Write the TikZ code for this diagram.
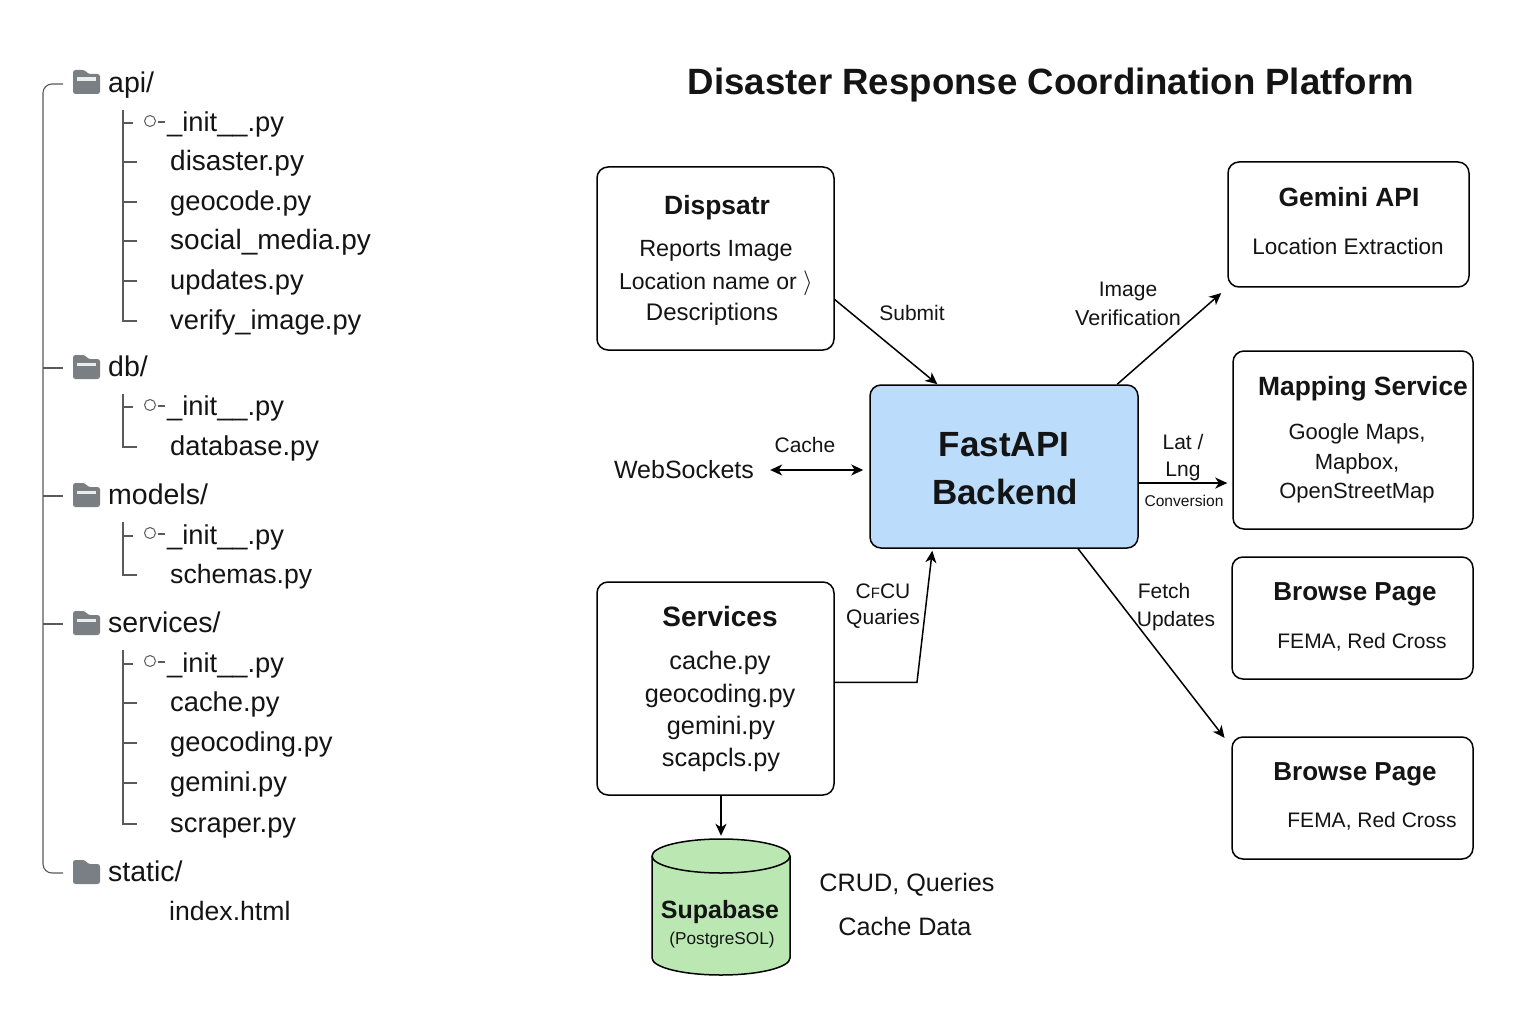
\documentclass[tikz,border=0pt]{standalone}
\usepackage{fontspec}
\setmainfont{Liberation Sans}
\usepackage{xcolor}
\usetikzlibrary{arrows.meta,calc}
\definecolor{backendblue}{RGB}{187,220,250}
\definecolor{supagreen}{RGB}{187,232,178}
\definecolor{foldergray}{RGB}{122,127,131}
\definecolor{treegray}{RGB}{90,90,90}
\definecolor{inktext}{RGB}{20,20,20}
\tikzset{
  card/.style={draw=black, line width=1.5pt, rounded corners=11pt, inner sep=0pt},
  flow/.style={draw=black, line width=1.5pt, -{Stealth[length=12pt,width=11pt,inset=3.5pt]}},
  flowboth/.style={draw=black, line width=1.5pt,
    {Stealth[length=12pt,width=11pt,inset=3.5pt]}-{Stealth[length=12pt,width=11pt,inset=3.5pt]}},
  treeline/.style={draw=treegray, line width=1.1pt},
  filename/.style={anchor=west, inner sep=0pt, text=inktext,
    font=\fontsize{27.3}{32}\selectfont\strut},
  widefile/.style={filename, font=\fontsize{28}{32}\selectfont\strut},
  narrowfile/.style={filename, font=\fontsize{26.6}{32}\selectfont\strut},
  dirname/.style={filename, font=\fontsize{28.5}{32}\selectfont\strut},
  initdot/.style={draw=treegray, circle, line width=1pt, minimum size=11pt, inner sep=0pt},
  cardtitle/.style={inner sep=0pt, text=inktext, font=\fontsize{26.4}{30}\selectfont\bfseries},
  cardtext/.style={inner sep=0pt, text=inktext, font=\fontsize{23}{28}\selectfont},
  fematext/.style={cardtext, font=\fontsize{21}{26}\selectfont},
  maptext/.style={cardtext, font=\fontsize{22}{26}\selectfont},
  servtext/.style={cardtext, font=\fontsize{25.3}{30}\selectfont},
  edgetext/.style={inner sep=0pt, text=inktext, font=\fontsize{21}{26}\selectfont},
  backendtext/.style={inner sep=0pt, text=inktext, font=\fontsize{35}{44}\selectfont\bfseries},
  notetext/.style={inner sep=0pt, text=inktext, font=\fontsize{25.2}{30}\selectfont},
  folder/.pic={
    \fill[foldergray, rounded corners=2.5pt] (0,0) -- (12,0) -- (15,4) -- (27,4)
      -- (27,24) -- (0,24) -- cycle;
    \fill[white!85!foldergray] (4,7.5) rectangle (23,11);
  },
  closedfolder/.pic={
    \fill[foldergray, rounded corners=2.5pt] (0,0) -- (12,0) -- (15,4) -- (27,4)
      -- (27,24) -- (0,24) -- cycle;
  }
}
\begin{document}
\begin{tikzpicture}[x=1pt, y=-1pt]
  \path[use as bounding box, fill=white] (0,0) rectangle (1536,1024);

  % Title
  \node[inner sep=0pt, text=inktext, font=\fontsize{36.6}{42}\selectfont\bfseries]
    (title) at (1051,85) {Disaster Response Coordination Platform};

  % Folder tree, left side
  \pic at (73,70) {folder};
  \pic at (73,355) {folder};
  \pic at (73,483) {folder};
  \pic at (73,611) {folder};
  \pic at (73,860) {closedfolder};
  \node[dirname] (api) at (108,86) {api/};
  \node[dirname] (db) at (108,370) {db/};
  \node[dirname] (models) at (108,498) {models/};
  \node[dirname] (services) at (108,626) {services/};
  \node[dirname] (static) at (108,875) {static/};

  \node[filename] (apiinit) at (167,125) {\_init\_\_.py};
  \node[widefile] (disaster) at (170,164) {disaster.py};
  \node[filename] (geocode) at (170,204) {geocode.py};
  \node[widefile] (social) at (170,243) {social\_media.py};
  \node[filename] (updates) at (170,283) {updates.py};
  \node[filename] (verify) at (170,323) {verify\_image.py};
  \node[filename] (dbinit) at (167,409) {\_init\_\_.py};
  \node[filename] (database) at (170,449) {database.py};
  \node[filename] (modelsinit) at (167,538) {\_init\_\_.py};
  \node[narrowfile] (schemas) at (170,577) {schemas.py};
  \node[filename] (servinit) at (167,666) {\_init\_\_.py};
  \node[filename] (cachepy) at (170,705) {cache.py};
  \node[filename] (geocoding) at (170,745) {geocoding.py};
  \node[filename] (geminipy) at (170,785) {gemini.py};
  \node[filename] (scraper) at (170,826) {scraper.py};
  \node[narrowfile] (index) at (169,914) {index.html};

  % Main stem with its branches
  \draw[treeline, rounded corners=9pt] ([xshift=-45pt,yshift=2pt]api.west) -| (43,500)
    |- ([xshift=-45pt,yshift=2pt]static.west);
  \draw[treeline] ([xshift=-65pt,yshift=2pt]db.west) -- ([xshift=-45pt,yshift=2pt]db.west);
  \draw[treeline] ([xshift=-65pt,yshift=2pt]models.west) -- ([xshift=-45pt,yshift=2pt]models.west);
  \draw[treeline] ([xshift=-65pt,yshift=2pt]services.west) -- ([xshift=-45pt,yshift=2pt]services.west);

  % api/ branches
  \coordinate (apistem) at (123,110);
  \draw[treeline] (apistem) |- ([xshift=-33pt,yshift=2pt]verify.west);
  \draw[treeline] ([xshift=-44pt,yshift=2pt]apiinit.west) -- ([xshift=-34pt,yshift=2pt]apiinit.west);
  \draw[treeline] ([xshift=-47pt,yshift=2pt]disaster.west) -- ([xshift=-33pt,yshift=2pt]disaster.west);
  \draw[treeline] ([xshift=-47pt,yshift=2pt]geocode.west) -- ([xshift=-33pt,yshift=2pt]geocode.west);
  \draw[treeline] ([xshift=-47pt,yshift=2pt]social.west) -- ([xshift=-33pt,yshift=2pt]social.west);
  \draw[treeline] ([xshift=-47pt,yshift=2pt]updates.west) -- ([xshift=-33pt,yshift=2pt]updates.west);
  \node[initdot] (apidot) at (150,121) {};
  \draw[treeline] (apidot.east) ++(2,1) -- ++(7,0);

  % db/ branches
  \coordinate (dbstem) at (123,394);
  \draw[treeline] (dbstem) |- ([xshift=-33pt,yshift=2pt]database.west);
  \draw[treeline] ([xshift=-44pt,yshift=2pt]dbinit.west) -- ([xshift=-34pt,yshift=2pt]dbinit.west);
  \node[initdot] (dbdot) at (150,405) {};
  \draw[treeline] (dbdot.east) ++(2,1) -- ++(7,0);

  % models/ branches
  \coordinate (modelsstem) at (123,522);
  \draw[treeline] (modelsstem) |- ([xshift=-33pt,yshift=2pt]schemas.west);
  \draw[treeline] ([xshift=-44pt,yshift=2pt]modelsinit.west) -- ([xshift=-34pt,yshift=2pt]modelsinit.west);
  \node[initdot] (modelsdot) at (150,533) {};
  \draw[treeline] (modelsdot.east) ++(2,1) -- ++(7,0);

  % services/ branches
  \coordinate (servstem) at (123,650);
  \draw[treeline] (servstem) |- ([xshift=-33pt,yshift=2pt]scraper.west);
  \draw[treeline] ([xshift=-44pt,yshift=2pt]servinit.west) -- ([xshift=-34pt,yshift=2pt]servinit.west);
  \draw[treeline] ([xshift=-47pt,yshift=2pt]cachepy.west) -- ([xshift=-33pt,yshift=2pt]cachepy.west);
  \draw[treeline] ([xshift=-47pt,yshift=2pt]geocoding.west) -- ([xshift=-33pt,yshift=2pt]geocoding.west);
  \draw[treeline] ([xshift=-47pt,yshift=2pt]geminipy.west) -- ([xshift=-33pt,yshift=2pt]geminipy.west);
  \node[initdot] (servdot) at (150,661) {};
  \draw[treeline] (servdot.east) ++(2,1) -- ++(7,0);

  % Boxes
  \node[card, minimum width=237pt, minimum height=183pt] (dispatcher) at (715.5,258.5) {};
  \node[card, minimum width=241pt, minimum height=125pt] (gemini) at (1348.5,224.5) {};
  \node[card, minimum width=240pt, minimum height=178pt] (mapping) at (1353,440) {};
  \node[card, minimum width=241pt, minimum height=122pt] (browseA) at (1352.5,618) {};
  \node[card, minimum width=241pt, minimum height=122pt] (browseB) at (1352.5,798) {};
  \node[card, minimum width=237pt, minimum height=213pt] (servbox) at (715.5,688.5) {};
  \node[card, fill=backendblue, minimum width=268pt, minimum height=163pt] (backend) at (1004,466.5) {};

  % Supabase drum
  \node[inner sep=0pt, minimum width=138pt, minimum height=136pt] (supabase) at (721,907) {};
  \draw[line width=1.5pt, fill=supagreen] (652,856) -- (652,958)
    arc[x radius=69, y radius=17, start angle=180, end angle=0] -- (790,856)
    arc[x radius=69, y radius=17, start angle=0, end angle=-180] -- cycle;
  \draw[line width=1.5pt] (652,856)
    arc[x radius=69, y radius=17, start angle=180, end angle=0];

  % Box texts
  \node[cardtitle] (disptitle) at (717,208) {Dispsatr};
  \node[cardtext, font=\fontsize{23.4}{28}\selectfont] (disptextA) at (716,251) {Reports Image};
  \node[cardtext] (disptextB) at (716,283) {Location name or $\rangle$};
  \node[cardtext, font=\fontsize{24}{28}\selectfont] (disptextC) at (712,314) {Descriptions};
  \node[cardtitle] (gemtitle) at (1349,197) {Gemini API};
  \node[cardtext, font=\fontsize{22.5}{28}\selectfont] (gemtext) at (1348,246) {Location Extraction};
  \node[cardtitle] (maptitle) at (1363,389) {Mapping Service};
  \node[maptext] (maptextA) at (1357,434) {Google Maps,};
  \node[maptext] (maptextB) at (1357,464) {Mapbox,};
  \node[maptext] (maptextC) at (1357,493) {OpenStreetMap};
  \node[cardtitle, font=\fontsize{26}{30}\selectfont\bfseries] (browsetitleA) at (1355,594) {Browse Page};
  \node[fematext] (browsetextA) at (1362,642) {FEMA, Red Cross};
  \node[cardtitle, font=\fontsize{26}{30}\selectfont\bfseries] (browsetitleB) at (1355,774) {Browse Page};
  \node[fematext] (browsetextB) at (1372,821) {FEMA, Red Cross};
  \node[cardtitle, font=\fontsize{28}{30}\selectfont\bfseries] (servtitle) at (720,616) {Services};
  \node[servtext] (servtextA) at (720,663) {cache.py};
  \node[servtext] (servtextB) at (720,696) {geocoding.py};
  \node[servtext] (servtextC) at (721,728) {gemini.py};
  \node[servtext] (servtextD) at (721,760) {scapcls.py};
  \node[backendtext] (backendA) at (1004,445) {FastAPI};
  \node[backendtext] (backendB) at (1005,492) {Backend};
  \node[cardtitle, font=\fontsize{25}{30}\selectfont\bfseries] (supatitle) at (720,912) {Supabase};
  \node[inner sep=0pt, text=inktext, font=\fontsize{17.2}{22}\selectfont] (supatext) at (722,940) {(PostgreSOL)};

  % Free-standing texts
  \node[inner sep=0pt, text=inktext, font=\fontsize{25}{30}\selectfont] (websockets) at (684,470) {WebSockets};
  \node[notetext] (crud) at (907,885) {CRUD, Queries};
  \node[notetext] (cachedata) at (905,926) {Cache Data};

  % Connectors
  \draw[flow] (dispatcher.-19.3) -- (backend.129.8);
  \draw[flow, shorten >=8pt] (backend.36.5) -- (gemini.south west);
  \draw[flow] (backend.-7.44) -- ([xshift=-5pt]backend.-7.44 -| mapping.west);
  \draw[flow, shorten >=11pt] (backend.-48.5) -- (browseB.157.9);
  \draw[flowboth, shorten <=16pt, shorten >=6pt] (websockets.east) -- (websockets.east -| backend.west);
  \coordinate (crudbend) at (917,681);
  \draw[flow, shorten >=2pt] (servbox.3.6) -- (servbox.3.6 -| crudbend) -- (backend.229.3);
  \draw[flow, shorten >=3pt] (servbox.south -| supabase.north) -- (supabase.north);

  % Connector labels
  \node[edgetext] (submit) at (912,313) {Submit};
  \node[edgetext] (imagelbl) at (1128,291) {Image};
  \node[edgetext, font=\fontsize{21.6}{26}\selectfont] (verifylbl) at (1128,318) {Verification};
  \node[edgetext] (cachelbl) at (805,445) {Cache};
  \node[edgetext] (latlbl) at (1183,442) {Lat /};
  \node[edgetext] (lnglbl) at (1183,471) {Lng};
  \node[edgetext, font=\fontsize{15.6}{18}\selectfont] (convlbl) at (1184,501) {Conversion};
  \node[edgetext] (crculbl) at (883,591) {C{\fontsize{15}{18}\selectfont F}CU};
  \node[edgetext] (quarieslbl) at (883,619) {Quaries};
  \node[edgetext] (fetchlbl) at (1164,591) {Fetch};
  \node[edgetext] (updateslbl) at (1176,621) {Updates};
\end{tikzpicture}
\end{document}
